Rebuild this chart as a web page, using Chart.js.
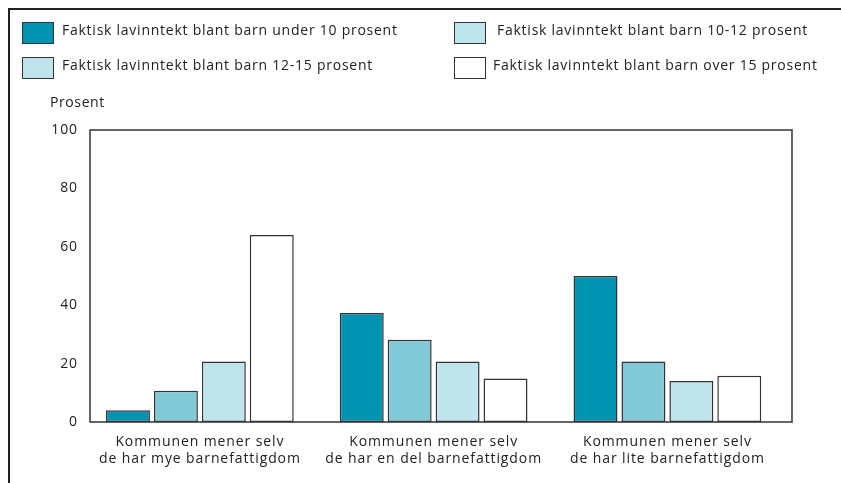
<!DOCTYPE html>
<html>
<head>
<meta charset="utf-8">
<script src="https://cdn.jsdelivr.net/npm/chart.js@4/dist/chart.umd.min.js"></script>
<style>
  html, body { margin: 0; padding: 0; background: #fff; }
  #wrap { position: relative; width: 841px; height: 483px; overflow: hidden;
          font-family: "Open Sans", "Noto Sans", sans-serif; color: #222; }
  #frame { position: absolute; left: 8px; top: 8px; right: -10px; bottom: -10px;
           border-left: 2px solid #222; border-top: 2px solid #222; }
  #chart { position: absolute; left: 0; top: 0; }
  .leg { position: absolute; font-size: 14px; line-height: 20px; white-space: nowrap;
         letter-spacing: 0.75px; }
  .leg i { position: absolute; left: 0; top: 0; width: 32px; height: 22px;
           border: 1.5px solid #333; box-sizing: border-box; }
  .leg span { position: absolute; top: -2px; }
  #ytitle { position: absolute; left: 50px; top: 92px; font-size: 14px; letter-spacing: 0.6px; }
</style>
</head>
<body>
<div id="wrap">
  <canvas id="chart" width="841" height="483"></canvas>
  <div id="frame"></div>
  <div id="legend"></div>
  <div id="ytitle">Prosent</div>
</div>
<script>
const categories = [
  ["Kommunen mener selv", "de har mye barnefattigdom"],
  ["Kommunen mener selv", "de har en del barnefattigdom"],
  ["Kommunen mener selv", "de har lite barnefattigdom"]
];
const seriesNames = [
  "Faktisk lavinntekt blant barn under 10 prosent",
  "Faktisk lavinntekt blant barn 10-12 prosent",
  "Faktisk lavinntekt blant barn 12-15 prosent",
  "Faktisk lavinntekt blant barn over 15 prosent"
];
const under10 = [4, 37.3, 50];
const from10to12 = [10.7, 28.2, 20.7];
const from12to15 = [20.7, 20.7, 14];
const over15 = [64, 14.9, 15.8];
const yTicks = [0, 20, 40, 60, 80, 100];

const barColors = ["#0093b2", "#82c9d8", "#c0e4ec", "#ffffff"];
// legend in the source shows the 10-12 swatch in the light tone
const legendColors = ["#0093b2", "#c0e4ec", "#c0e4ec", "#ffffff"];
// [swatch left, swatch top, text offset]
const legendPos = [[22, 22, 40], [454, 22, 43], [22, 57, 40], [454, 57, 39]];

// HTML legend, two columns
const legEl = document.getElementById("legend");
seriesNames.forEach((name, i) => {
  const d = document.createElement("div");
  d.className = "leg";
  d.style.left = legendPos[i][0] + "px";
  d.style.top = legendPos[i][1] + "px";
  d.innerHTML = `<i style="background:${legendColors[i]}"></i><span style="left:${legendPos[i][2]}px">${name}</span>`;
  legEl.appendChild(d);
});

const values = [under10, from10to12, from12to15, over15];
const datasets = values.map((v, i) => ({
  label: seriesNames[i],
  data: v.map((y, x) => ({ x, y })),
  backgroundColor: barColors[i],
  borderColor: "#333",
  borderWidth: 1.5,
  borderSkipped: false,
  categoryPercentage: 0.82,
  barPercentage: 0.917
}));

// widen canvas text a bit, the source font runs wide
const spacing = {
  id: "spacing",
  beforeUpdate(chart) { chart.ctx.letterSpacing = "0.9px"; },
  beforeDraw(chart) { chart.ctx.letterSpacing = "0.9px"; }
};

const plotBox = {
  id: "plotBox",
  afterDatasetsDraw(chart) {
    const { ctx, chartArea: a } = chart;
    ctx.save();
    ctx.strokeStyle = "#333";
    ctx.lineWidth = 1.5;
    ctx.strokeRect(a.left, a.top, a.right - a.left, a.bottom - a.top);
    ctx.restore();
  }
};

new Chart(document.getElementById("chart"), {
  type: "bar",
  data: { datasets },
  plugins: [spacing, plotBox],
  options: {
    responsive: false,
    animation: false,
    layout: { padding: { left: 0, top: 130, right: 49, bottom: 0 } },
    plugins: { legend: { display: false }, tooltip: { enabled: false } },
    scales: {
      x: {
        type: "linear",
        offset: false,
        min: -0.47,
        max: 2.533,
        grid: { display: false, drawTicks: false, offset: false },
        border: { display: false },
        afterBuildTicks: s => { s.ticks = categories.map((c, i) => ({ value: i })); },
        afterFit: s => { s.height = 61; },
        ticks: {
          padding: 12,
          autoSkip: false,
          maxRotation: 0,
          color: "#222",
          font: { family: "Open Sans", size: 14 },
          callback: v => categories[v]
        }
      },
      y: {
        min: 0,
        max: 100,
        grid: { display: false, drawTicks: false },
        border: { display: false },
        afterBuildTicks: s => { s.ticks = yTicks.map(v => ({ value: v })); },
        afterFit: s => { s.width = 90; },
        ticks: {
          padding: 12,
          color: "#222",
          font: { family: "Open Sans", size: 14 }
        }
      }
    }
  }
});
</script>
</body>
</html>
